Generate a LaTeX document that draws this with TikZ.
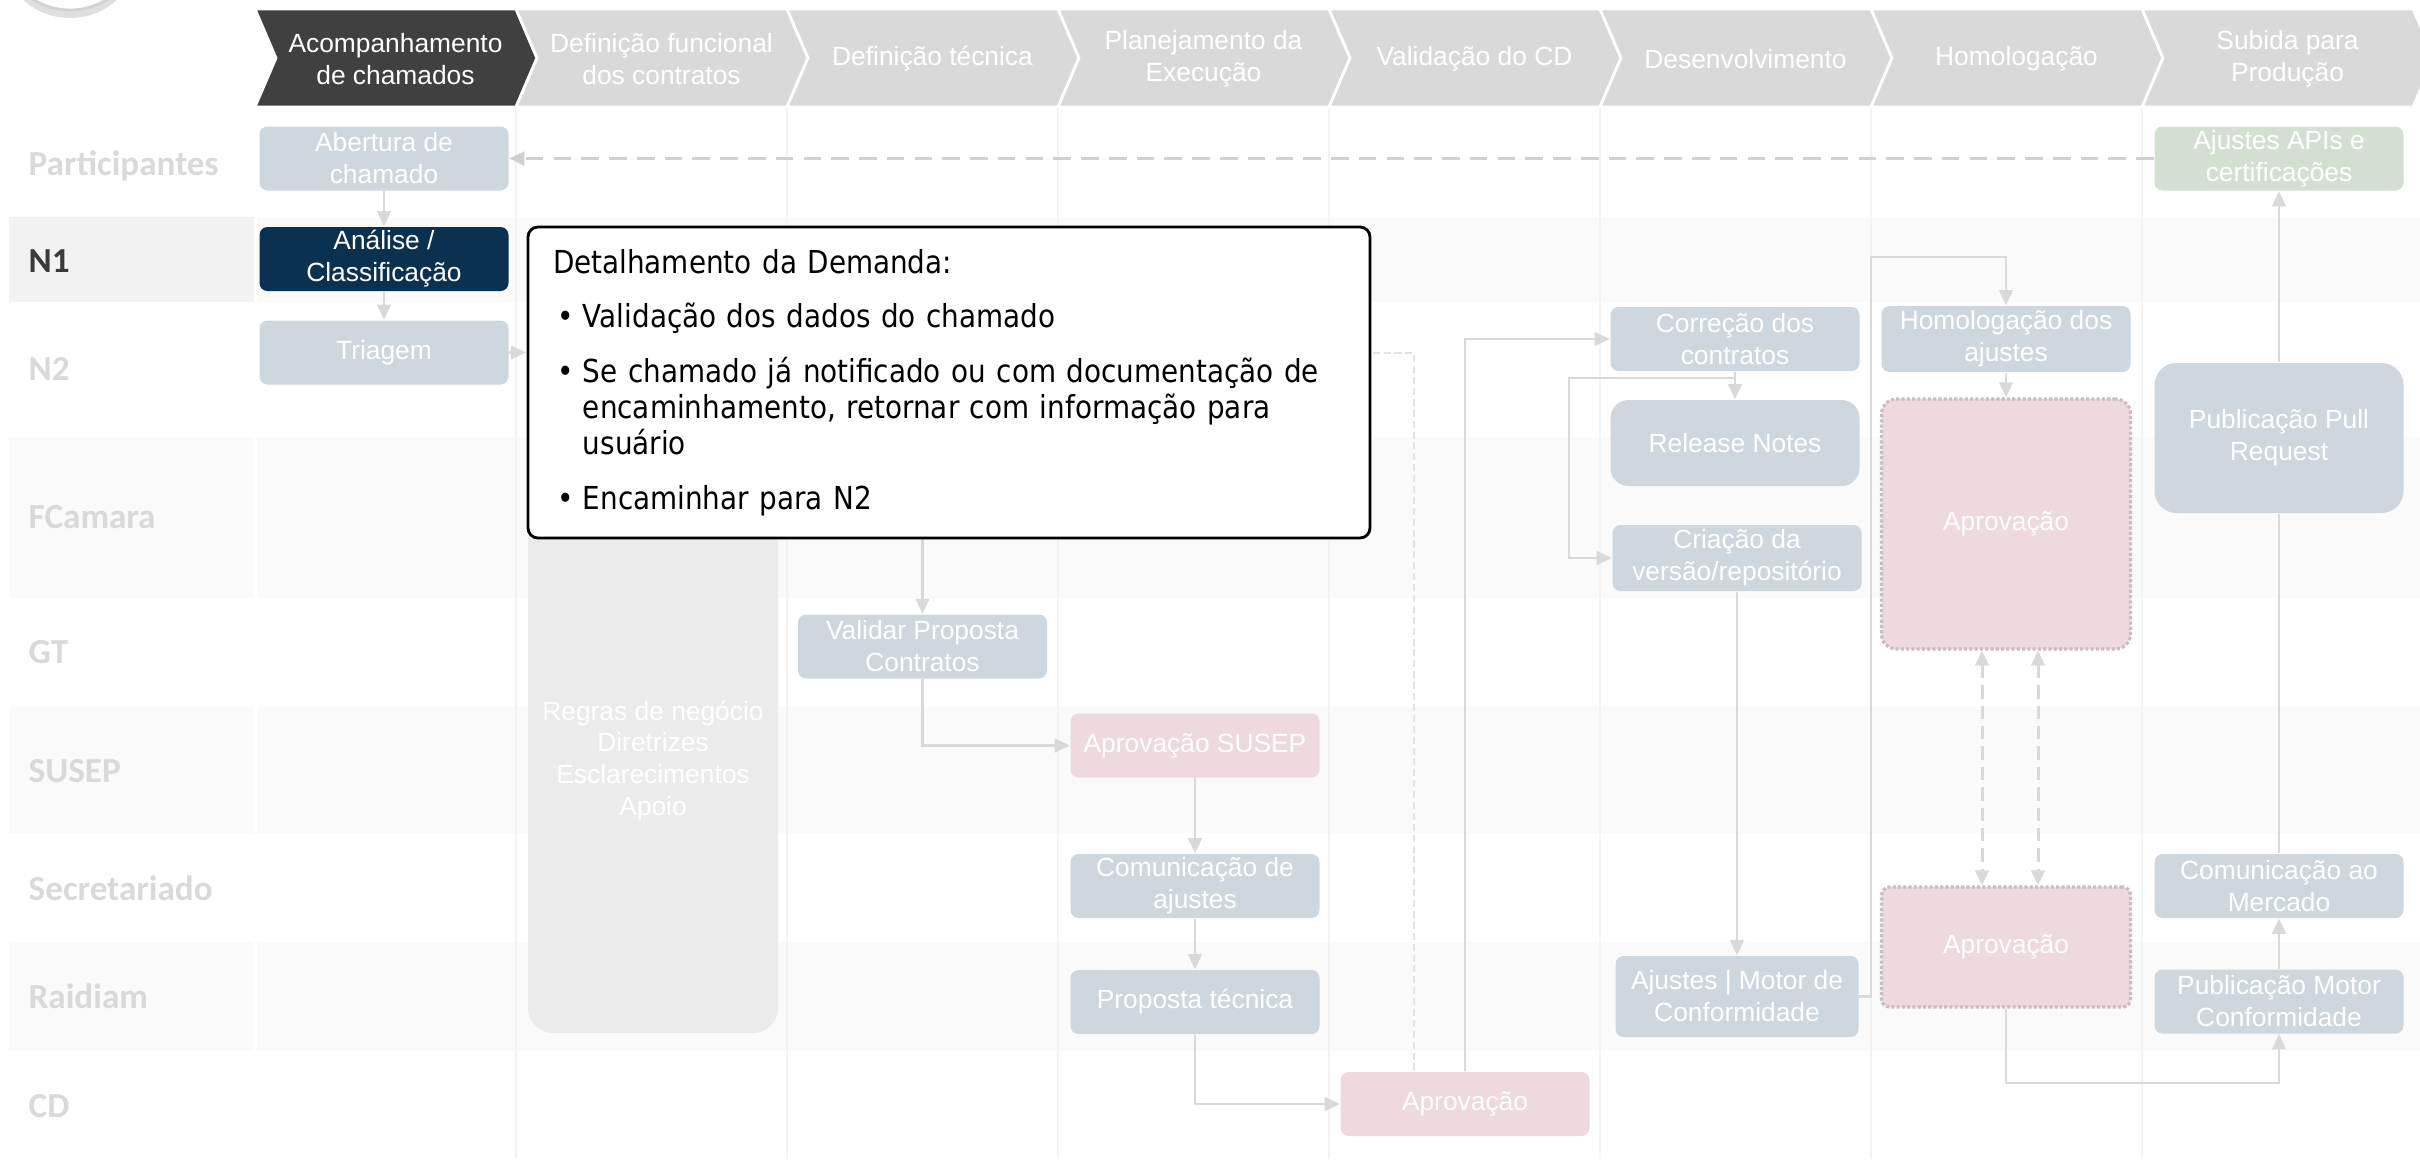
\documentclass[tikz,border=0pt]{standalone}
\usepackage{fontspec}
\setmainfont{Liberation Sans}
\newfontfamily\lanefont{Carlito}
\newfontfamily\notefont[FakeStretch=0.88]{DejaVu Sans}
\usepackage{tikz}
\usetikzlibrary{arrows.meta, positioning, shadows}
\definecolor{chevdark}{HTML}{404040}
\definecolor{chevlight}{HTML}{D9D9D9}
\definecolor{boxgray}{HTML}{CED6DE}
\definecolor{navy}{HTML}{0A3150}
\definecolor{pinkfill}{HTML}{EDD9DE}
\definecolor{greenfill}{HTML}{D3E0D1}
\definecolor{regrasgray}{HTML}{EBEBEB}
\definecolor{lanegray}{HTML}{D9D9D9}
\definecolor{lanedark}{HTML}{3A3A3A}
\definecolor{bandgray}{HTML}{FAFAFA}
\definecolor{bandmid}{HTML}{F2F2F2}
\definecolor{gridgray}{HTML}{F3F3F3}
\definecolor{linegray}{HTML}{D9D9D9}
\definecolor{dashgray}{HTML}{D0D0D0}
\definecolor{dotgray}{HTML}{C8BDC1}

\begin{document}
\begin{tikzpicture}[x=0.1mm, y=-0.1mm,
    box/.style={rounded corners=0.8mm, fill=boxgray, text=white, align=center, inner sep=0pt,
      minimum width=24.9mm, minimum height=6.4mm, font=\fontsize{7.5}{9.1}\selectfont}, % caixas do fluxo
    pinkbox/.style={box, fill=pinkfill},
    dotbox/.style={box, fill=pinkfill, draw=dotgray, line width=0.9pt, dash pattern=on 0.9pt off 0.6pt},
    lane/.style={anchor=base west, inner sep=0pt, text=lanegray, font=\lanefont\bfseries\fontsize{10}{12}\selectfont},
    chevtext/.style={text=white, align=center, inner sep=0pt, font=\fontsize{7.5}{9.1}\selectfont},
    arr/.style={draw=linegray, line width=0.6pt, -{Triangle[length=4.3pt, width=3.9pt]}},
    link/.style={draw=linegray, line width=0.6pt},
    dashline/.style={draw=dashgray, line width=0.75pt, dash pattern=on 5pt off 2.9pt},
    dashthin/.style={draw=dashgray!60, line width=0.5pt, dash pattern=on 2pt off 1.1pt},
    dasharr/.style={draw=linegray, line width=0.85pt, dash pattern=on 3.8pt off 2pt,
      {Triangle[length=4.3pt, width=3.9pt]}-{Triangle[length=4.3pt, width=3.9pt]}},
    popup/.style={draw=black, line width=0.8pt, fill=white, rounded corners=1mm, inner sep=0pt,
      minimum width=84.2mm, minimum height=31.1mm, text width=79.2mm, align=left,
      font=\notefont\fontsize{9}{10.2}\selectfont}
    ]
\useasboundingbox (0,0) rectangle (2420,1159);
\clip (0,0) rectangle (2420,1159);

% faixas das raias
\fill[bandmid] (9,217) rectangle (254,302);
\fill[bandgray] (257,217) rectangle (2420,302);
\foreach \a/\b in {437/598, 707/833, 942/1051} {
  \fill[bandgray] (9,\a) rectangle (254,\b);
  \fill[bandgray] (257,\a) rectangle (2420,\b);
}
\foreach \k in {1,...,7} \draw[gridgray, line width=0.5pt] (245+271*\k,107) -- (245+271*\k,1159);

% logo
\draw[fill=white, draw=gray!35, line width=0.8pt, drop shadow={opacity=0.25, shadow xshift=0pt, shadow yshift=-0.8mm}] (70,-60) circle[radius=7mm];

% etapas
\foreach \k/\cc/\txt in {0/chevdark/{Acompanhamento\\de chamados}, 1/chevlight/{Definição funcional\\dos contratos},
    2/chevlight/{Definição técnica}, 3/chevlight/{Planejamento da\\Execução}, 4/chevlight/{Validação do CD},
    5/chevlight/{Desenvolvimento}, 6/chevlight/{Homologação}, 7/chevlight/{Subida para\\Produção}} {
  \pgfmathsetmacro\L{ifthenelse(\k==0,255,245+271*\k)}
  \pgfmathsetmacro\R{516+271*\k}
  \filldraw[fill=\cc, draw=white, line width=0.8pt] (\L,9) -- (\R,9) -- (\R+21,58) -- (\R,107) -- (\L,107) -- (\L+21,58) -- cycle;
  \node[chevtext] (ph\k) at ({(\L+\R)/2+10},59) {\txt};
}

% raias
\node[lane] (lpart) at (28,175) {Participantes};
\node[lane, text=lanedark] (ln1) at (28,272) {N1};
\node[lane] (ln2) at (28,380) {N2};
\node[lane] (lfc) at (28,528) {FCamara};
\node[lane] (lgt) at (28,663) {GT};
\node[lane] (lsusep) at (28,782) {SUSEP};
\node[lane] (lsec) at (28,900) {Secretariado};
\node[lane] (lraid) at (28,1008) {Raidiam};
\node[lane] (lcd) at (28,1117) {CD};

% caixas
\node[rounded corners=2.5mm, fill=regrasgray, minimum width=25mm, minimum height=59.6mm, inner sep=0pt] (regras) at (653,735) {};
\node[chevtext] (regrastxt) at (653,761) {Regras de negócio\\Diretrizes\\Esclarecimentos\\Apoio};

\node[box] (abert) at (384,158.5) {Abertura de\\chamado};
\node[box, fill=navy] (anal) at (384,259) {Análise /\\Classificação};
\node[box] (triag) at (384,352.5) {Triagem};
\node[box] (valid) at (922.5,646.5) {Validar Proposta\\Contratos};
\node[pinkbox] (susep) at (1195,745.5) {Aprovação SUSEP};
\node[box] (comaj) at (1195,886) {Comunicação de\\ajustes};
\node[box] (propt) at (1195,1002) {Proposta técnica};
\node[pinkbox] (cdapr) at (1465,1104) {Aprovação};
\node[box] (corr) at (1735,339) {Correção dos\\contratos};
\node[box, minimum height=8.6mm, rounded corners=1.8mm] (relnot) at (1735,443) {Release Notes};
\node[box, minimum height=6.6mm] (criac) at (1737,558) {Criação da\\versão/repositório};
\node[box, minimum height=8.1mm, minimum width=24.3mm] (ajmot) at (1737,996.5) {Ajustes | Motor de\\Conformidade};
\node[box, minimum height=6.6mm] (homaj) at (2006,339) {Homologação dos\\ajustes};
\node[dotbox, minimum height=25mm, rounded corners=1.5mm] (apr1) at (2006,524) {Aprovação};
\node[dotbox, minimum height=12mm] (apr2) at (2006,947) {Aprovação};
\node[box, fill=greenfill] (apis) at (2279,158.5) {Ajustes APIs e\\certificações};
\node[box, minimum height=15mm, rounded corners=2.2mm] (pubpr) at (2279,438) {Publicação Pull\\Request};
\node[box] (commer) at (2279,886) {Comunicação ao\\Mercado};
\node[box] (pubmot) at (2279,1001.5) {Publicação Motor\\Conformidade};

\coordinate (triagend) at (526,352.5);
\coordinate (funcout) at (922.5,520);
\coordinate (tecout) at (1340,353);

% conexoes
\draw[arr] (abert) -- (anal);
\draw[arr] (anal) -- (triag);
\draw[arr] (triag) -- (triagend);
\draw[dashline, -{Triangle[length=4.3pt, width=3.9pt]}] (apis) -- (abert);
\draw[arr] (funcout) -- (valid);
\draw[arr] (valid) |- (susep);
\draw[arr] (susep) -- (comaj);
\draw[arr] (comaj) -- (propt);
\draw[arr] (propt) |- (cdapr);
\draw[dashthin] (tecout) -| (1414,0 |- cdapr.north);
\draw[arr] (cdapr) |- (corr);
\draw[arr] (corr) -- (relnot);
\draw[arr] (corr.south) ++(0,6) -| (1569,0 |- criac.west) -- (criac);
\draw[arr] (criac) -- (ajmot);
\draw[arr] (ajmot.east) -| (1871,257) -| (homaj.north);
\draw[arr] (homaj) -- (apr1);
\draw[dasharr] (1982,0 |- apr1.south) -- (1982,0 |- apr2.north);
\draw[dasharr] (2038,0 |- apr1.south) -- (2038,0 |- apr2.north);
\draw[arr] (apr2.south) -- ++(0,74) -| (pubmot.south);
\draw[arr] (pubmot) -- (commer);
\draw[link] (commer) -- (pubpr);
\draw[arr] (pubpr) -- (apis);

% detalhe
\node[popup] (detail) at (949,382.5) {Detalhamento da Demanda:\\[5.4pt]
\hspace*{1.2pt}\makebox[7.3pt][l]{•}Validação dos dados do chamado\\[5.4pt]
\hspace*{1.2pt}\makebox[7.3pt][l]{•}Se chamado já notificado ou com documentação de\\
\hspace*{8.5pt}encaminhamento, retornar com informação para\\
\hspace*{8.5pt}usuário\\[5.4pt]
\hspace*{1.2pt}\makebox[7.3pt][l]{•}Encaminhar para N2};
\end{tikzpicture}
\end{document}
